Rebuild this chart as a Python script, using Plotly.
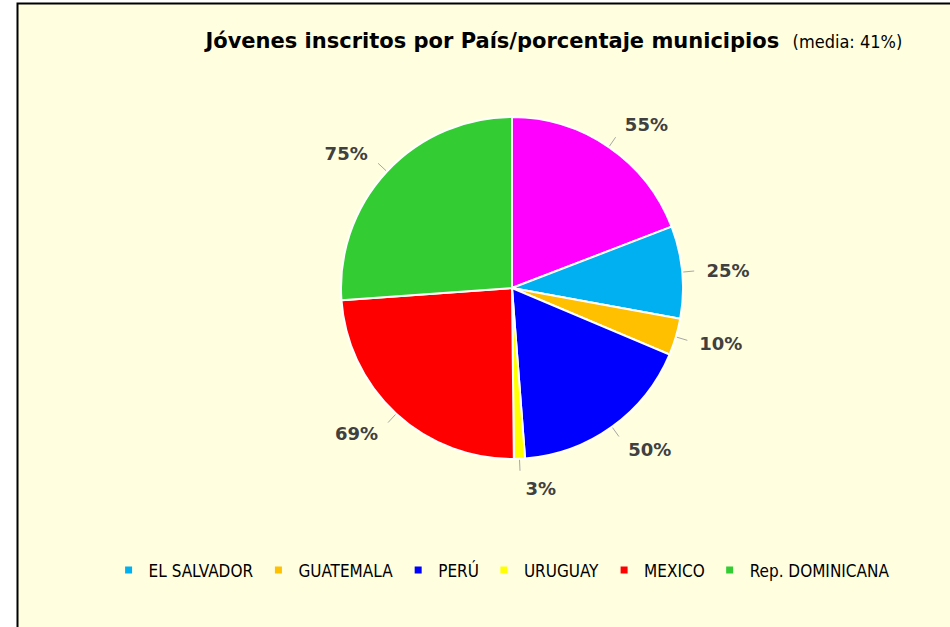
import math
import plotly.graph_objects as go

labels = [" ", "EL SALVADOR", "GUATEMALA", "PERÚ", "URUGUAY", "MEXICO", "Rep. DOMINICANA"]
values = [55, 25, 10, 50, 3, 69, 75]
colors = ["#FF00FF", "#00B0F0", "#FFC000", "#0000FF", "#FFFF00", "#FF0000", "#33CC33"]
legend_labels = labels[1:]
legend_colors = colors[1:]

FONT = "DejaVu Sans, sans-serif"
FONTC = "DejaVu Sans Condensed, DejaVu Sans, sans-serif"

W, H = 950, 627
CX, CY, R = 512, 288, 171      # pie centre / radius in pixels
RL = 190                       # radius of label ring


def dom(r):
    return dict(x=[(CX - r) / W, (CX + r) / W], y=[1 - (CY + r) / H, 1 - (CY - r) / H])


fig = go.Figure()
fig.add_trace(go.Pie(
    labels=labels, values=values, sort=False, direction="clockwise", rotation=0,
    marker=dict(colors=colors, line=dict(color="white", width=2)),
    textinfo="none", showlegend=False, domain=dom(R),
    hoverinfo="label+value",
))
# transparent ring only used to place the outside value labels a bit further out
fig.add_trace(go.Pie(
    labels=labels, values=values, sort=False, direction="clockwise", rotation=0,
    marker=dict(colors=["rgba(0,0,0,0)"] * len(values), line=dict(width=0)),
    texttemplate="%{value}%", textposition="outside",
    textfont=dict(family=FONT, size=18, color="#404040", weight="bold"),
    showlegend=False, domain=dom(RL), hoverinfo="skip",
))
for name, col in zip(legend_labels, legend_colors):
    fig.add_trace(go.Scatter(
        x=[None], y=[None], mode="markers", name=name,
        marker=dict(symbol="square", size=7, color=col),
    ))

# short grey leader lines at each slice's mid angle
total = sum(values)
shapes = [dict(
    type="rect", xref="paper", yref="paper", layer="below",
    x0=17.5 / W, x1=1.02, y0=-0.02, y1=1 - 3.5 / H,
    fillcolor="#FFFFE0", line=dict(color="black", width=2),
)]
cum = 0
for v in values:
    mid = (cum + v / 2) / total * 2 * math.pi
    cum += v
    x0 = CX + (R + 1) * math.sin(mid)
    y0 = CY - (R + 1) * math.cos(mid)
    x1 = CX + (R + 12) * math.sin(mid)
    y1 = CY - (R + 12) * math.cos(mid)
    shapes.append(dict(
        type="line", xref="paper", yref="paper",
        x0=x0 / W, y0=1 - y0 / H, x1=x1 / W, y1=1 - y1 / H,
        line=dict(color="#A6A6A6", width=1),
    ))

fig.update_layout(
    width=W, height=H,
    margin=dict(l=0, r=0, t=0, b=0),
    paper_bgcolor="white", plot_bgcolor="rgba(0,0,0,0)",
    xaxis=dict(visible=False), yaxis=dict(visible=False),
    title=dict(
        text="<b>Jóvenes inscritos por País/porcentaje municipios</b>  "
             "<span style='font-size:18px;font-family:DejaVu Sans Condensed'>(media: 41%)</span>",
        x=0.583, xanchor="center", y=0.935, yanchor="middle",
        font=dict(family=FONT, size=21, color="black"),
    ),
    legend=dict(
        orientation="h", x=0.528, xanchor="center", y=0.09, yanchor="middle",
        font=dict(family=FONTC, size=17, color="black"),
        bgcolor="rgba(0,0,0,0)", itemwidth=30, tracegroupgap=0,
    ),
    shapes=shapes,
    showlegend=True,
)

fig.write_html("out.html", post_script="document.body.style.margin='0';",
               config={"displayModeBar": False})
